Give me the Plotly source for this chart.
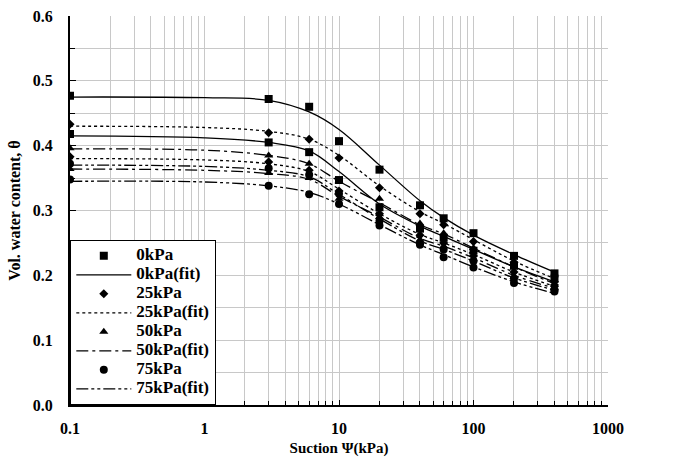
import plotly.graph_objects as go

# ---- data ----
suction = [0.1, 3, 6, 10, 20, 40, 60, 100, 200, 400]
kpa0_a = [0.477, 0.472, 0.460, 0.407, 0.363, 0.308, 0.288, 0.265, 0.230, 0.203]
kpa0_b = [0.418, 0.405, 0.390, 0.347, 0.305, 0.272, 0.258, 0.238, 0.215, 0.195]
kpa25_a = [0.433, 0.420, 0.410, 0.381, 0.335, 0.295, 0.278, 0.252, 0.220, 0.190]
kpa25_b = [0.383, 0.375, 0.362, 0.330, 0.295, 0.262, 0.250, 0.230, 0.205, 0.185]
kpa50_a = [0.396, 0.385, 0.372, 0.345, 0.318, 0.280, 0.265, 0.242, 0.212, 0.185]
kpa50_b = [0.364, 0.358, 0.350, 0.318, 0.290, 0.255, 0.245, 0.225, 0.198, 0.180]
kpa75_a = [0.372, 0.365, 0.355, 0.326, 0.284, 0.250, 0.240, 0.222, 0.195, 0.178]
kpa75_b = [0.348, 0.338, 0.325, 0.310, 0.277, 0.247, 0.228, 0.212, 0.188, 0.175]

suction_fit = [0.1, 1, 3, 6, 10, 20, 40, 60, 100, 200, 400]
fit0_a = [0.475, 0.474, 0.470, 0.452, 0.425, 0.370, 0.315, 0.289, 0.262, 0.232, 0.205]
fit0_b = [0.415, 0.412, 0.405, 0.392, 0.360, 0.310, 0.276, 0.260, 0.240, 0.213, 0.190]
fit25_a = [0.430, 0.428, 0.422, 0.410, 0.385, 0.338, 0.298, 0.280, 0.255, 0.222, 0.195]
fit25_b = [0.380, 0.378, 0.372, 0.360, 0.333, 0.295, 0.263, 0.250, 0.232, 0.205, 0.183]
fit50_a = [0.395, 0.393, 0.385, 0.372, 0.345, 0.312, 0.278, 0.264, 0.242, 0.213, 0.187]
fit50_b = [0.364, 0.362, 0.357, 0.348, 0.322, 0.290, 0.257, 0.245, 0.227, 0.200, 0.180]
fit75_a = [0.370, 0.368, 0.362, 0.352, 0.325, 0.287, 0.253, 0.240, 0.222, 0.196, 0.177]
fit75_b = [0.345, 0.344, 0.338, 0.328, 0.310, 0.278, 0.247, 0.232, 0.213, 0.190, 0.172]

x_tick_vals = [0.1, 1, 10, 100, 1000]
x_tick_text = ["0.1", "1", "10", "100", "1000"]

FONT = "Liberation Serif"

groups = [
    ("0kPa", "square", 8, "solid", kpa0_a, kpa0_b, fit0_a, fit0_b),
    ("25kPa", "diamond", 7, "dot", kpa25_a, kpa25_b, fit25_a, fit25_b),
    ("50kPa", "triangle-up", 8, "12px,4px,3px,4px", kpa50_a, kpa50_b, fit50_a, fit50_b),
    ("75kPa", "circle", 8, "12px,3px,3px,3px,3px,3px", kpa75_a, kpa75_b, fit75_a, fit75_b),
]


def legend_label(text):
    return "<span style='font-size:17px'>" + text + "</span>"


fig = go.Figure()
rank = 1
for name, sym, size, dash, da, db, fa, fb in groups:
    fig.add_trace(go.Scatter(x=suction, y=da, mode="markers", name=legend_label(name),
                             legendrank=rank,
                             marker=dict(symbol=sym, size=size, color="black")))
    fig.add_trace(go.Scatter(x=suction, y=db, mode="markers", name=name,
                             showlegend=False,
                             marker=dict(symbol=sym, size=size, color="black")))
    fig.add_trace(go.Scatter(x=suction_fit, y=fa, mode="lines", name=legend_label(name + "(fit)"),
                             legendrank=rank + 1, line_shape="spline",
                             line=dict(color="black", width=1.3, dash=dash)))
    fig.add_trace(go.Scatter(x=suction_fit, y=fb, mode="lines", name=name + "(fit)",
                             showlegend=False, line_shape="spline",
                             line=dict(color="black", width=1.3, dash=dash)))
    rank += 2

fig.update_layout(
    width=679, height=466,
    margin=dict(l=70, r=71, t=16, b=61),
    paper_bgcolor="white", plot_bgcolor="white",
    font=dict(family=FONT, size=16, color="black", weight="bold"),
    showlegend=True,
    legend=dict(x=0.0, y=0.0, xanchor="left", yanchor="bottom",
                bgcolor="white", bordercolor="black", borderwidth=1.3,
                font=dict(family=FONT, size=11, weight="bold"),
                tracegroupgap=0, itemwidth=55, traceorder="normal"),
)
fig.update_xaxes(
    type="log", range=[-1, 3], automargin=False,
    tickvals=x_tick_vals, ticktext=x_tick_text,
    showline=True, linecolor="black", linewidth=2,
    ticks="inside", ticklen=5, tickcolor="black", ticklabelstandoff=8,
    showgrid=True, gridcolor="#c8c8c8", gridwidth=1,
    minor=dict(dtick="D1", showgrid=True, gridcolor="#c8c8c8", ticks="inside", ticklen=4, tickcolor="black"),
    zeroline=False,
    title=dict(text="Suction Ψ(kPa)", font=dict(family=FONT, size=15, weight="bold"), standoff=6),
    tickfont=dict(family=FONT, size=16, weight="bold"),
)
fig.update_yaxes(
    range=[0, 0.6], dtick=0.1, tickformat=".1f", automargin=False,
    showline=True, linecolor="black", linewidth=2,
    ticks="inside", ticklen=6, tickcolor="black", ticklabelstandoff=12,
    showgrid=True, gridcolor="#c8c8c8", gridwidth=1,
    minor=dict(dtick=0.05, showgrid=True, gridcolor="#c8c8c8", ticks="inside", ticklen=5, tickcolor="black"),
    zeroline=False,
    title=dict(text="Vol. water content, θ", font=dict(family=FONT, size=16, weight="bold"), standoff=8),
    tickfont=dict(family=FONT, size=16, weight="bold"),
)

fig.write_html("out.html", config={"displayModeBar": False},
               post_script="document.body.style.margin='0px';")
